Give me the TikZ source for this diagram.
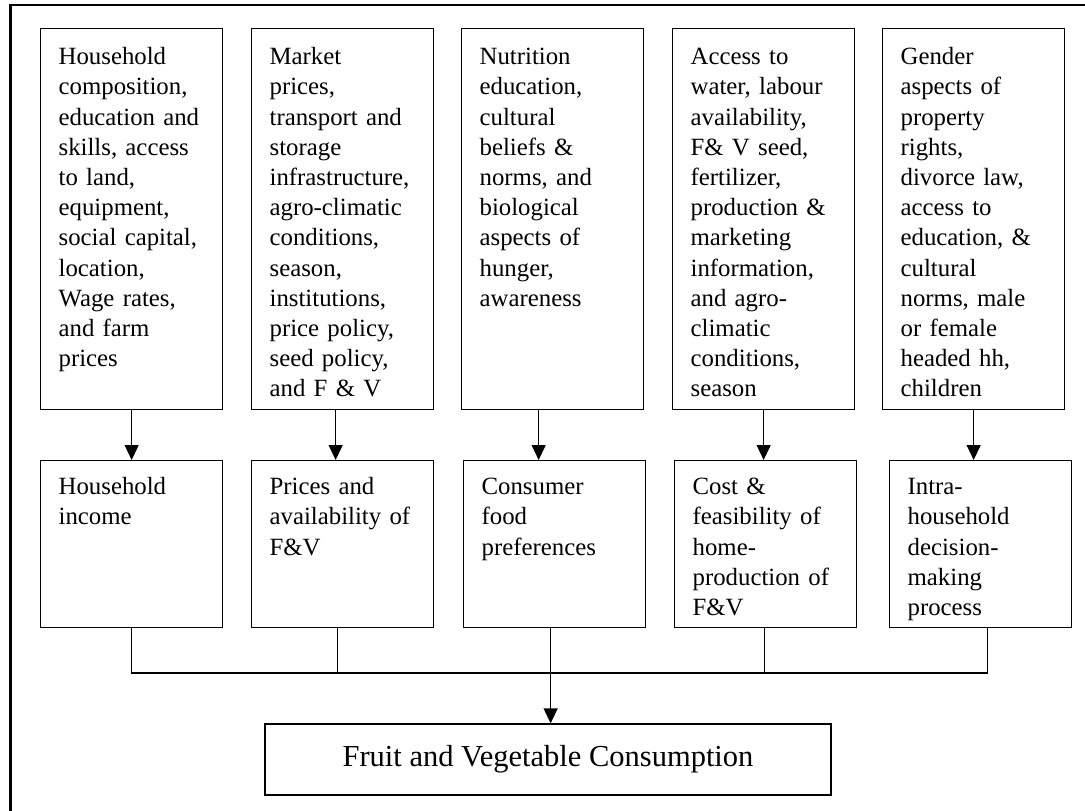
\documentclass[tikz,border=0pt]{standalone}
\usepackage{fontspec}
\setmainfont{Liberation Serif}
\usetikzlibrary{arrows.meta}
\begin{document}
\begin{tikzpicture}[x=1pt,y=-1pt,
	box/.style={draw, line width=1.3pt, anchor=north west, align=left,
		text width=146pt, inner xsep=18pt,
		font=\fontsize{24.8}{30.2}\selectfont},
	topbox/.style={box, inner ysep=18pt, text height=18pt, text depth=327pt},
	lowbox/.style={box, inner ysep=16pt, text height=18pt, text depth=117pt},
	arr/.style={line width=1.3pt, -{Triangle[width=14pt,length=15pt]}}]
	\useasboundingbox (0,0) rectangle (1085,811);
	\begin{scope}
		\clip (0,0) rectangle (1085,811);
		\draw[line width=2.6pt] (10.5,5) rectangle (1110,840);
	\end{scope}
	\node[topbox] (t1) at (40,28) {Household\\composition,\\education and\\skills, access\\to land,\\equipment,\\social capital,\\location,\\Wage rates,\\and farm\\prices};
	\node[topbox] (t2) at (251,28) {Market\\prices,\\transport and\\storage\\infrastructure,\\agro-climatic\\conditions,\\season,\\institutions,\\price policy,\\seed policy,\\and F \& V};
	\node[topbox] (t3) at (461,28) {Nutrition\\education,\\cultural\\beliefs \&\\norms, and\\biological\\aspects of\\hunger,\\awareness};
	\node[topbox] (t4) at (672,28) {Access to\\water, labour\\availability,\\F\& V seed,\\fertilizer,\\production \&\\marketing\\information,\\and agro-\\climatic\\conditions,\\season};
	\node[topbox] (t5) at (882,28) {Gender\\aspects of\\property\\rights,\\divorce law,\\access to\\education, \&\\cultural\\norms, male\\or female\\headed hh,\\children};
	\node[lowbox] (l1) at (40,460) {Household\\income};
	\node[lowbox] (l2) at (251,460) {Prices and\\availability of\\F\&V};
	\node[lowbox] (l3) at (463,460) {Consumer\\food\\preferences};
	\node[lowbox] (l4) at (674,460) {Cost \&\\feasibility of\\home-\\production of\\F\&V};
	\node[lowbox] (l5) at (889,460) {Intra-\\household\\decision-\\making\\process};
	\node[draw, line width=1.3pt, minimum width=566pt, minimum height=71pt,
		font=\fontsize{30.5}{36}\selectfont] (fv) at (548,759.5) {Fruit and Vegetable Consumption};
	\draw[arr] (t1.south) -- (t1.south |- l1.north);
	\draw[arr] ([xshift=-7pt]t2.south) -- ([xshift=-7pt]t2.south |- l2.north);
	\draw[arr] ([xshift=-14pt]t3.south) -- ([xshift=-14pt]t3.south |- l3.north);
	\draw[arr] (t4.south) -- (t4.south |- l4.north);
	\draw[arr] (t5.south) -- (t5.south |- l5.north);
	\coordinate (bus) at (0,673);
	\draw[line width=1.3pt] (l1.south) -- (l1.south |- bus) -- ([xshift=7pt]l5.south |- bus) -- ([xshift=7pt]l5.south);
	\draw[line width=1.3pt] ([xshift=-5pt]l2.south) -- ([xshift=-5pt]l2.south |- bus);
	\draw[line width=1.3pt] ([xshift=-1pt]l4.south) -- ([xshift=-1pt]l4.south |- bus);
	\draw[arr] ([xshift=-4pt]l3.south) -- ([xshift=-4pt]l3.south |- fv.north);
\end{tikzpicture}
\end{document}
